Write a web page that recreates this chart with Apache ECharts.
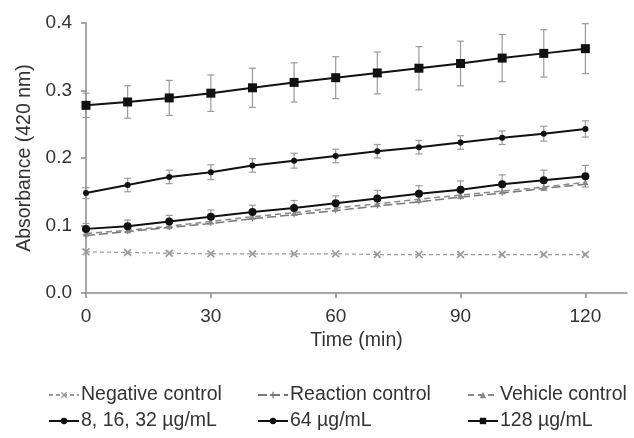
<!DOCTYPE html>
<html>
<head>
<meta charset="utf-8">
<script src="https://cdn.jsdelivr.net/npm/echarts@6/dist/echarts.min.js"></script>
<style>html,body{margin:0;padding:0;background:#fff;}#c{width:634px;height:438px;}</style>
</head>
<body>
<div id="c"></div>
<script>
const times = [0, 10, 20, 30, 40, 50, 60, 70, 80, 90, 100, 110, 120];
const xTickLabels = [0, 30, 60, 90, 120];
const yTickLabels = [0.0, 0.1, 0.2, 0.3, 0.4];

const negativeControl = [0.061, 0.060, 0.059, 0.058, 0.058, 0.058, 0.058, 0.057, 0.057, 0.057, 0.057, 0.057, 0.057];
const reactionControl = [0.085, 0.091, 0.097, 0.103, 0.110, 0.116, 0.122, 0.129, 0.135, 0.142, 0.148, 0.155, 0.161];
const vehicleControl  = [0.088, 0.093, 0.099, 0.106, 0.113, 0.119, 0.126, 0.132, 0.139, 0.145, 0.151, 0.157, 0.164];
const conc8to32 = [0.095, 0.099, 0.106, 0.113, 0.120, 0.126, 0.133, 0.140, 0.147, 0.153, 0.161, 0.167, 0.173];
const conc64    = [0.148, 0.160, 0.172, 0.179, 0.189, 0.196, 0.203, 0.210, 0.216, 0.223, 0.230, 0.236, 0.243];
const conc128   = [0.278, 0.283, 0.289, 0.296, 0.304, 0.312, 0.319, 0.326, 0.333, 0.340, 0.348, 0.355, 0.362];

const err8to32 = [0.008, 0.009, 0.009, 0.010, 0.010, 0.011, 0.011, 0.012, 0.012, 0.013, 0.014, 0.015, 0.016];
const err64    = [0.008, 0.010, 0.010, 0.011, 0.010, 0.011, 0.010, 0.010, 0.010, 0.010, 0.010, 0.011, 0.012];
const err128   = [0.018, 0.024, 0.026, 0.027, 0.029, 0.029, 0.031, 0.031, 0.032, 0.033, 0.035, 0.035, 0.037];

const names = ['Negative control', 'Reaction control', 'Vehicle control', '8, 16, 32 \u00b5g/mL', '64 \u00b5g/mL', '128 \u00b5g/mL'];

const pairs = arr => times.map((t, i) => [t, arr[i]]);
const errData = (vals, errs) => times.map((t, i) => [t, vals[i] - errs[i], vals[i] + errs[i]]);

const xSymbol = 'path://M0,1.5L1.5,0L5,3.5L8.5,0L10,1.5L6.5,5L10,8.5L8.5,10L5,6.5L1.5,10L0,8.5L3.5,5Z';
const plusSymbol = 'path://M4,0L6,0L6,4L10,4L10,6L6,6L6,10L4,10L4,6L0,6L0,4L4,4Z';
const FONT = 'Liberation Sans, Arial, sans-serif';
const TXT = '#333';

function errorSeries(vals, errs) {
  return {
    type: 'custom',
    silent: true,
    z: 1,
    data: errData(vals, errs),
    renderItem: function (params, api) {
      const x = api.value(0);
      const lo = api.coord([x, api.value(1)]);
      const hi = api.coord([x, api.value(2)]);
      const w = 3.5;
      const st = { stroke: '#9a9a9a', lineWidth: 1.2 };
      return {
        type: 'group',
        children: [
          { type: 'line', shape: { x1: lo[0], y1: lo[1], x2: hi[0], y2: hi[1] }, style: st },
          { type: 'line', shape: { x1: lo[0] - w, y1: lo[1], x2: lo[0] + w, y2: lo[1] }, style: st },
          { type: 'line', shape: { x1: hi[0] - w, y1: hi[1], x2: hi[0] + w, y2: hi[1] }, style: st }
        ]
      };
    }
  };
}

const legendPos = [[48, 385], [257, 385], [467, 385], [48, 411], [257, 411], [467, 411]];
const legends = names.map((n, i) => ({
  data: [n],
  left: legendPos[i][0],
  top: legendPos[i][1],
  itemWidth: 30,
  itemHeight: 8,
  padding: 0,
  textStyle: { fontFamily: FONT, fontSize: 19.5, color: TXT, padding: [0, 0, 0, -3] }
}));

const chart = echarts.init(document.getElementById('c'), null, { renderer: 'canvas' });
chart.setOption({
  animation: false,
  backgroundColor: '#fff',
  legend: legends,
  grid: { left: 86, right: 7, top: 23, bottom: 145, containLabel: false },
  xAxis: {
    type: 'value', min: 0, max: 130,
    name: 'Time (min)', nameLocation: 'middle', nameGap: 38,
    nameTextStyle: { fontFamily: FONT, fontSize: 19.5, color: TXT },
    axisLine: { lineStyle: { color: '#8a8a8a', width: 1.5 } },
    axisTick: { show: true, length: 5, customValues: xTickLabels, lineStyle: { color: '#8a8a8a', width: 1.5 } },
    axisLabel: { customValues: xTickLabels, margin: 14, fontFamily: FONT, fontSize: 19, color: TXT },
    splitLine: { show: false }
  },
  yAxis: {
    type: 'value', min: 0, max: 0.4, interval: 0.1,
    name: 'Absorbance (420 nm)', nameLocation: 'middle', nameGap: 50,
    nameTextStyle: { fontFamily: FONT, fontSize: 19.5, color: TXT },
    axisLine: { show: true, lineStyle: { color: '#8a8a8a', width: 1.5 } },
    axisTick: { show: true, length: 5, lineStyle: { color: '#8a8a8a', width: 1.5 } },
    axisLabel: { margin: 14, fontFamily: FONT, fontSize: 19, color: TXT,
      formatter: v => yTickLabels.find(t => Math.abs(t - v) < 1e-9).toFixed(1) },
    splitLine: { show: false }
  },
  series: [
    { name: names[0], type: 'line', data: pairs(negativeControl), z: 2,
      symbol: xSymbol, symbolSize: 8, showAllSymbol: true,
      lineStyle: { color: '#9a9a9a', width: 1.2, type: [4, 3] },
      itemStyle: { color: '#9a9a9a' } },
    { name: names[1], type: 'line', data: pairs(reactionControl), z: 2,
      symbol: plusSymbol, symbolSize: 5, showAllSymbol: true,
      lineStyle: { color: '#777', width: 1.5, type: [9, 4] },
      itemStyle: { color: '#777' } },
    { name: names[2], type: 'line', data: pairs(vehicleControl), z: 2,
      symbol: 'triangle', symbolSize: 6, showAllSymbol: true,
      lineStyle: { color: '#888', width: 1.5, type: [6, 4] },
      itemStyle: { color: '#888' } },
    { name: names[3], type: 'line', data: pairs(conc8to32), z: 3,
      symbol: 'circle', symbolSize: 8, showAllSymbol: true,
      lineStyle: { color: '#111', width: 2 },
      itemStyle: { color: '#111' } },
    { name: names[4], type: 'line', data: pairs(conc64), z: 3,
      symbol: 'circle', symbolSize: 6, showAllSymbol: true,
      lineStyle: { color: '#111', width: 2 },
      itemStyle: { color: '#111' } },
    { name: names[5], type: 'line', data: pairs(conc128), z: 3,
      symbol: 'rect', symbolSize: 9, showAllSymbol: true,
      lineStyle: { color: '#111', width: 2 },
      itemStyle: { color: '#111' } },
    errorSeries(conc8to32, err8to32),
    errorSeries(conc64, err64),
    errorSeries(conc128, err128)
  ]
});
</script>
</body>
</html>
